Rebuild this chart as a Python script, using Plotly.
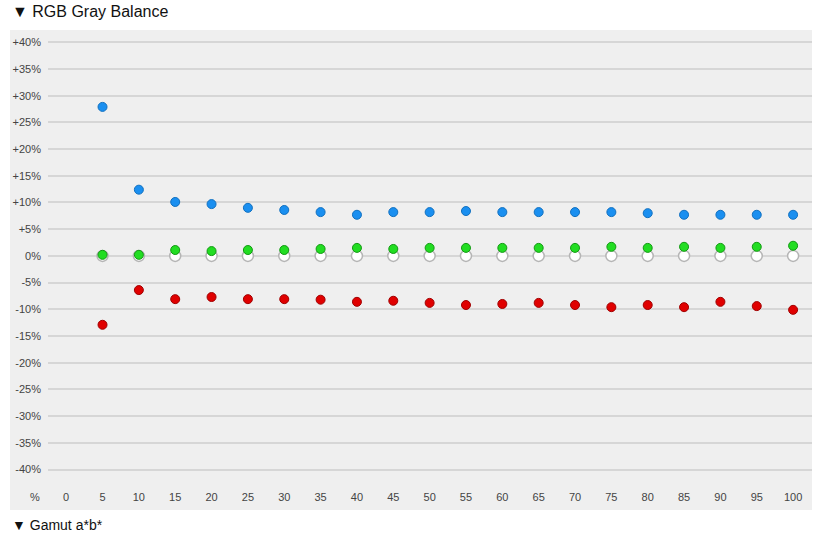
import plotly.graph_objects as go

x_vals = [5,10,15,20,25,30,35,40,45,50,55,60,65,70,75,80,85,90,95,100]
blue = [27.9,12.4,10.1,9.7,9.0,8.6,8.2,7.7,8.2,8.2,8.4,8.2,8.2,8.2,8.2,8.0,7.7,7.7,7.7,7.7]
green = [0.2,0.2,1.1,0.9,1.1,1.1,1.3,1.5,1.3,1.5,1.5,1.5,1.5,1.5,1.7,1.5,1.7,1.5,1.7,1.9]
red = [-12.9,-6.4,-8.1,-7.7,-8.1,-8.1,-8.2,-8.6,-8.4,-8.8,-9.2,-9.0,-8.8,-9.2,-9.6,-9.2,-9.6,-8.6,-9.4,-10.1]
ref = [0]*20
x_ticks = list(range(0,101,5))
y_ticks = list(range(-40,41,5))
y_labels = [("+%d%%" % v if v > 0 else "%d%%" % v) for v in y_ticks]

fig = go.Figure()
fig.add_trace(go.Scatter(x=x_vals, y=ref, mode="markers",
    marker=dict(size=11, color="white", line=dict(color="#b5b5b5", width=1.5))))
fig.add_trace(go.Scatter(x=x_vals, y=green, mode="markers",
    marker=dict(size=9, color="#22dd22", line=dict(color="#119911", width=1))))
fig.add_trace(go.Scatter(x=x_vals, y=blue, mode="markers",
    marker=dict(size=9, color="#1a8ff0", line=dict(color="#1070c0", width=1))))
fig.add_trace(go.Scatter(x=x_vals, y=red, mode="markers",
    marker=dict(size=9, color="#e00000", line=dict(color="#a00000", width=1))))

W, H = 829, 533
l, r, t, b = 48, 17, 30, 48
pw, ph = W - l - r, H - t - b
px = lambda X: (X - l) / pw
py = lambda Y: (H - b - Y) / ph

fig.add_shape(type="rect", xref="paper", yref="paper", layer="below",
    x0=px(10), x1=px(812), y0=py(510), y1=py(30),
    fillcolor="#efefef", line=dict(width=0))

fig.add_annotation(text="▼ RGB Gray Balance", xref="paper", yref="paper",
    x=px(10), y=py(12), xanchor="left", yanchor="middle", showarrow=False,
    font=dict(size=16, color="#111", family="Liberation Sans, Arial"))
fig.add_annotation(text="▼ Gamut a*b*", xref="paper", yref="paper",
    x=px(10), y=py(525), xanchor="left", yanchor="middle", showarrow=False,
    font=dict(size=14, color="#111", family="Liberation Sans, Arial"))
fig.add_annotation(text="%", xref="paper", yref="paper",
    x=px(42), y=py(497), xanchor="right", yanchor="middle", showarrow=False,
    font=dict(size=11, color="#444", family="Liberation Sans, Arial"))

fig.update_layout(width=W, height=H, margin=dict(l=l, r=r, t=t, b=b),
    paper_bgcolor="white", plot_bgcolor="rgba(0,0,0,0)", showlegend=False,
    font=dict(family="Liberation Sans, Arial", size=11, color="#444"))
fig.update_xaxes(range=[-2.5, 102.6], tickvals=x_ticks, showgrid=False,
    zeroline=False, showline=False, ticks="", ticklabelstandoff=4)
fig.update_yaxes(range=[-42.9, 42.3], tickvals=y_ticks, ticktext=y_labels,
    showgrid=True, gridcolor="#d6d6d6", gridwidth=1.5, zeroline=False,
    showline=False, ticks="", ticklabelstandoff=6)
fig.write_html("out.html", config={"displayModeBar": False},
    post_script="document.body.style.margin='0';document.body.style.overflow='hidden';")
